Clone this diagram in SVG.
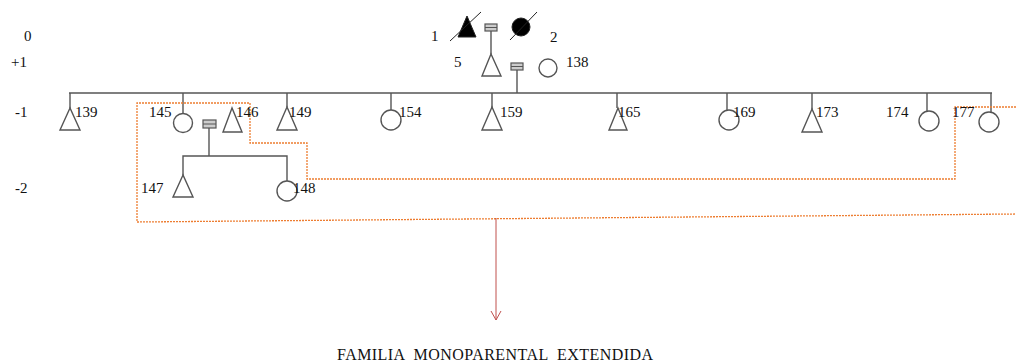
<svg xmlns="http://www.w3.org/2000/svg" width="1016" height="362" viewBox="0 0 1016 362">
<style>
.l{stroke:#555;stroke-width:1.4;fill:none}
.s{stroke:#555;stroke-width:1.4;fill:#fff}
.f{stroke:#222;stroke-width:1;fill:#000}
.t{font-family:"Liberation Serif",serif;font-size:15px;fill:#111}
.o{stroke:#ED7D31;stroke-width:1.3;fill:none;stroke-dasharray:2 1}
.m{stroke:#555;stroke-width:1.2;fill:#ccc}
</style>
<defs>
<marker id="ar" markerWidth="12" markerHeight="12" refX="10" refY="6" orient="auto" markerUnits="userSpaceOnUse">
<path d="M1,1 L10,6 L1,11" fill="none" stroke="#C0504D" stroke-width="1"/>
</marker>
</defs>
<g id="generations">
<text class="t" x="24" y="41">0</text>
<text class="t" x="11" y="67">+1</text>
<text class="t" x="15" y="117">-1</text>
<text class="t" x="15" y="193">-2</text>
</g>
<g id="connectors">
<line class="l" x1="491" y1="31" x2="491" y2="54"/>
<line class="l" x1="517" y1="70" x2="517" y2="93"/>
<line class="l" x1="69" y1="93" x2="992" y2="93"/>
<line class="l" x1="70" y1="93" x2="70" y2="108"/>
<line class="l" x1="183" y1="93" x2="183" y2="114"/>
<line class="l" x1="287" y1="93" x2="287" y2="107"/>
<line class="l" x1="391" y1="93" x2="391" y2="110"/>
<line class="l" x1="492" y1="93" x2="492" y2="108"/>
<line class="l" x1="617" y1="93" x2="617" y2="108"/>
<line class="l" x1="727" y1="93" x2="727" y2="110"/>
<line class="l" x1="812" y1="93" x2="812" y2="109"/>
<line class="l" x1="927" y1="93" x2="927" y2="111"/>
<line class="l" x1="991" y1="93" x2="991" y2="112"/>
<line class="l" x1="209" y1="128" x2="209" y2="156"/>
<polyline class="l" points="183,175 183,156 287,156 287,181"/>
<polyline class="o" points="1016,107 955,107 955,179 307,179 307,143 250,143 250,103 137,103 137,222 1016,214"/>
<line x1="496" y1="218" x2="496" y2="320" stroke="#C0504D" stroke-width="1" marker-end="url(#ar)"/>
</g>
<g id="n1"><polygon class="f" points="467,16 458,37 476,37"/><line x1="450" y1="41" x2="481" y2="12" stroke="#222" stroke-width="1"/><text class="t" x="431" y="41">1</text></g>
<g id="m1"><rect class="m" x="485" y="24" width="12" height="7"/><line x1="485" y1="27.5" x2="497" y2="27.5" stroke="#555" stroke-width="1"/></g>
<g id="n2"><circle class="f" cx="521" cy="27" r="9"/><line x1="510" y1="40" x2="537" y2="12" stroke="#222" stroke-width="1"/><text class="t" x="550" y="42">2</text></g>
<g id="n5"><polygon class="s" points="491,54 482,76 501,76"/><text class="t" x="454" y="67">5</text></g>
<g id="m2"><rect class="m" x="511" y="63" width="12" height="7"/><line x1="511" y1="66.5" x2="523" y2="66.5" stroke="#555" stroke-width="1"/></g>
<g id="n138"><circle class="s" cx="548" cy="68" r="9"/><text class="t" x="566" y="67">138</text></g>
<g id="n139"><polygon class="s" points="70,108 60,130 80,130"/><text class="t" x="75" y="117">139</text></g>
<g id="n145"><circle class="s" cx="183" cy="123" r="9.5"/><text class="t" x="149" y="117">145</text></g>
<g id="m3"><rect class="m" x="203" y="120" width="13" height="8"/><line x1="203" y1="124" x2="216" y2="124" stroke="#555" stroke-width="1"/></g>
<g id="n146"><polygon class="s" points="232,108 223,132 242,132"/><text class="t" x="236" y="117">146</text></g>
<g id="n149"><polygon class="s" points="287,107 277,130 297,130"/><text class="t" x="289" y="117">149</text></g>
<g id="n154"><circle class="s" cx="391" cy="120" r="10"/><text class="t" x="399" y="117">154</text></g>
<g id="n159"><polygon class="s" points="492,107 482,130 502,130"/><text class="t" x="500" y="117">159</text></g>
<g id="n165"><polygon class="s" points="618,108 609,130 627,130"/><text class="t" x="618" y="117">165</text></g>
<g id="n169"><circle class="s" cx="729" cy="120" r="10"/><text class="t" x="733" y="117">169</text></g>
<g id="n173"><polygon class="s" points="812,109 802,132 822,132"/><text class="t" x="816" y="117">173</text></g>
<g id="n174"><circle class="s" cx="929" cy="121" r="10"/><text class="t" x="886" y="117">174</text></g>
<g id="n177"><circle class="s" cx="989" cy="122" r="10"/><text class="t" x="952" y="117">177</text></g>
<g id="n147"><polygon class="s" points="183,175 173,197 193,197"/><text class="t" x="141" y="193">147</text></g>
<g id="n148"><circle class="s" cx="287" cy="191" r="10"/><text class="t" x="293" y="193">148</text></g>
<g id="caption"><text x="337" y="360" textLength="316" lengthAdjust="spacing" style="font-family:'Liberation Serif',serif;font-size:16px;fill:#111" xml:space="preserve">FAMILIA  MONOPARENTAL  EXTENDIDA</text></g>
</svg>
